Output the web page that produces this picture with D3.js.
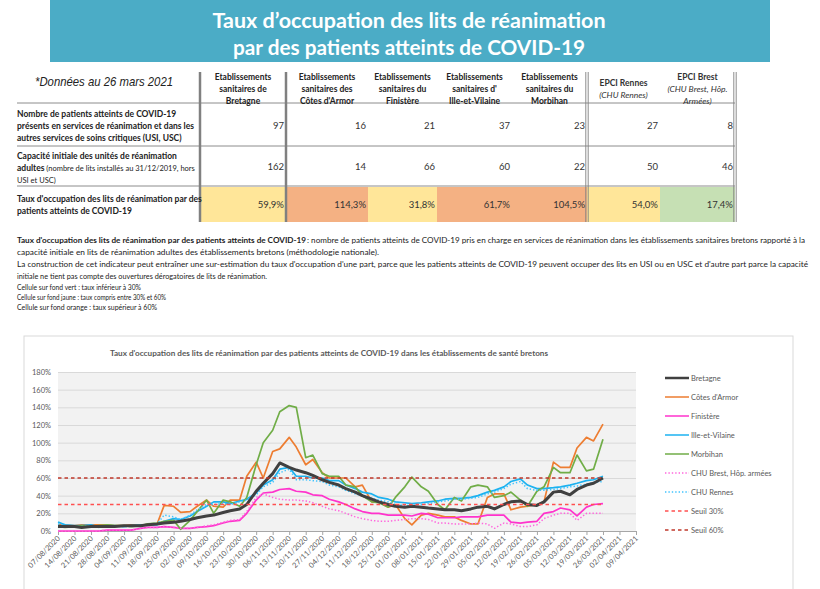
<!DOCTYPE html>
<html>
<head>
<meta charset="utf-8">
<script src="https://cdn.jsdelivr.net/npm/d3@7"></script>
<style>
body { margin: 0; background: #fff; }
svg text { font-family: Lato, "Open Sans", sans-serif; }
</style>
</head>
<body>
<svg id="page" width="820" height="589"></svg>
<script>
// ---- table data ----
var colHeads = [
    ["Etablissements", "sanitaires de", "Bretagne"],
    ["Etablissements", "sanitaires des", "Côtes d'Armor"],
    ["Etablissements", "sanitaires du", "Finistère"],
    ["Etablissements", "sanitaires d'", "Ille-et-Vilaine"],
    ["Etablissements", "sanitaires du", "Morbihan"]
];
var epciHeads = [
    ["EPCI Rennes", "(CHU Rennes)"],
    ["EPCI Brest", "(CHU Brest, Hôp.", "Armées)"]
];
var patients = [97, 16, 21, 37, 23, 27, 8];
var capacite = [162, 14, 66, 60, 22, 50, 46];
var taux = [59.9, 114.3, 31.8, 61.7, 104.5, 54.0, 17.4];

// ---- chart data (one value on each Friday and Monday from 07/08/2020) ----
var seriesNames = ["Bretagne", "Côtes d'Armor", "Finistère", "Ille-et-Vilaine", "Morbihan",
                   "CHU Brest, Hôp. armées", "CHU Rennes", "Seuil 30%", "Seuil 60%"];
var bretagne = [5,5, 5,4, 5,5, 5,5, 6,6, 6,7, 8,9, 10,11, 13,15, 17,18, 21,23, 25,30, 45,54, 65,77,
    72,69, 66,63, 58,55, 52,48, 44,40, 36,33, 30,28, 27,28, 27,26, 25,24, 24,23, 25,27, 28,25,
    30,33, 34,30, 29,33, 44,45, 41,47, 52,54, 60];
var cotesArmor = [7,7, 6,7, 7,7, 7,6, 6,7, 7,7, 8,29, 28,21, 22,28, 35,28, 27,35, 35,62, 78,60, 90,93,
    106,95, 75,81, 66,60, 60,60, 50,52, 33,33, 27,30, 14,7, 18,20, 18,16, 16,12, 8,8, 38,42,
    42,24, 27,28, 30,33, 78,72, 72,94, 106,102, 121];
var finistere = [0,0, 0,0, 0,0, 1,1, 1,1, 3,4, 4,5, 4,3, 3,4, 5,6, 9,11, 12,20, 35,43, 44,47,
    48,45, 44,41, 40,36, 33,30, 25,22, 20,20, 18,18, 18,17, 20,19, 15,15, 15,16, 16,16, 18,18,
    18,10, 9,10, 11,20, 22,26, 24,17, 27,30, 31];
var illeVilaine = [10,7, 6,6, 7,5, 6,6, 5,6, 7,7, 7,11, 14,13, 17,22, 28,33, 33,31, 34,36, 43,52, 58,70,
    72,62, 62,60, 60,57, 57,52, 48,44, 42,38, 36,33, 32,31, 32,33, 34,36, 37,37, 38,40, 44,46,
    50,56, 59,52, 48,48, 49,50, 52,54, 57,58, 62];
var morbihan = [5,4, 5,6, 5,6, 7,6, 6,5, 6,8, 9,11, 12,2, 12,22, 35,20, 35,33, 28,38, 75,100, 114,135,
    142,140, 83,86, 65,62, 62,52, 50,40, 33,32, 27,38, 50,61, 50,45, 30,24, 38,34, 50,52, 50,38,
    40,44, 35,28, 45,50, 72,66, 66,86, 68,70, 104];
var chuBrest = [0,0, 0,0, 0,0, 1,1, 1,1, 3,4, 4,5, 4,3, 3,4, 6,7, 10,12, 13,22, 38,42, 38,36,
    35,35, 34,32, 28,25, 23,20, 16,14, 12,11, 11,12, 13,14, 14,13, 9,9, 8,8, 8,9, 8,3,
    9,8, 5,5, 7,14, 18,20, 20,12, 20,20, 20];
var chuRennes = [8,6, 5,5, 6,4, 5,5, 5,5, 6,7, 8,18, 16,13, 18,24, 30,30, 31,30, 33,35, 41,50, 55,66,
    70,58, 58,57, 56,52, 50,46, 42,40, 37,35, 33,30, 29,29, 30,31, 33,34, 36,36, 37,38, 42,44,
    48,53, 56,48, 46,46, 47,48, 50,51, 53,55, 56];
var seuil30 = 30, seuil60 = 60;
var yTicks = [0, 20, 40, 60, 80, 100, 120, 140, 160, 180];

var svg = d3.select("#page");

// ---- banner ----
svg.append("rect").attr("x", 50).attr("y", 0).attr("width", 720).attr("height", 62).attr("fill", "#4BACC6");
svg.append("text").attr("x", 409).attr("y", 28).attr("text-anchor", "middle")
    .attr("fill", "#fff").attr("font-size", 21).attr("font-weight", "bold")
    .attr("textLength", 393).attr("lengthAdjust", "spacingAndGlyphs")
    .text("Taux d’occupation des lits de réanimation");
svg.append("text").attr("x", 409).attr("y", 55).attr("text-anchor", "middle")
    .attr("fill", "#fff").attr("font-size", 21).attr("font-weight", "bold")
    .attr("textLength", 352).attr("lengthAdjust", "spacingAndGlyphs")
    .text("par des patients atteints de COVID-19");

// ---- table ----
var edges = [200, 286, 368, 437, 512, 587, 660, 735];
var tbl = svg.append("g");

svg.append("text").attr("x", 35).attr("y", 86).attr("font-size", 13).attr("font-style", "italic")
    .style("font-family", "'Liberation Sans', Arial, sans-serif").attr("fill", "#222")
    .attr("textLength", 138).attr("lengthAdjust", "spacingAndGlyphs")
    .text("*Données au 26 mars 2021");

function cellColor(v) {
    if (v < 30) return "#C6E0B4";
    if (v <= 60) return "#FFE699";
    return "#F4B183";
}
taux.forEach(function (v, i) {
    tbl.append("rect").attr("x", edges[i]).attr("y", 187)
        .attr("width", edges[i + 1] - edges[i]).attr("height", 35).attr("fill", cellColor(v));
});

[103, 146, 186].forEach(function (y) {
    tbl.append("line").attr("x1", 17).attr("x2", 735).attr("y1", y).attr("y2", y)
        .attr("stroke", "#8c8c8c").attr("stroke-width", 1);
});
[200, 286].forEach(function (x) {
    tbl.append("line").attr("x1", x).attr("x2", x).attr("y1", 72).attr("y2", 222)
        .attr("stroke", "#808080").attr("stroke-width", 2.5);
});
[587, 735].forEach(function (x) {
    [-1.2, 1.2].forEach(function (d) {
        tbl.append("line").attr("x1", x + d).attr("x2", x + d).attr("y1", 72).attr("y2", 222)
            .attr("stroke", "#808080").attr("stroke-width", 0.9);
    });
});

colHeads.forEach(function (lines, i) {
    var cx = (edges[i] + edges[i + 1]) / 2;
    lines.forEach(function (t, j) {
        tbl.append("text").attr("x", cx).attr("y", 80 + j * 12).attr("text-anchor", "middle")
            .attr("font-size", 8.5).attr("font-weight", "bold").attr("fill", "#222").text(t);
    });
});
epciHeads.forEach(function (lines, i) {
    var cx = (edges[5 + i] + edges[6 + i]) / 2;
    var y0 = lines.length === 2 ? 86 : 80;
    lines.forEach(function (t, j) {
        tbl.append("text").attr("x", cx).attr("y", y0 + j * 12).attr("text-anchor", "middle")
            .attr("font-size", 8.5).attr("font-weight", j === 0 ? "bold" : "normal")
            .attr("font-style", j === 0 ? "normal" : "italic").attr("fill", "#333").text(t);
    });
});

function rowLabel(lines, y0) {
    lines.forEach(function (parts, j) {
        var t = tbl.append("text").attr("x", 17).attr("y", y0 + j * 11.8).attr("fill", "#222");
        parts.forEach(function (p) {
            t.append("tspan").attr("font-size", p[1] ? 8.5 : 7.5)
                .attr("font-weight", p[1] ? "bold" : "normal").text(p[0]);
        });
    });
}
rowLabel([[["Nombre de patients atteints de COVID-19", 1]],
          [["présents en services de réanimation et dans les", 1]],
          [["autres services de soins critiques (USI, USC)", 1]]], 117);
rowLabel([[["Capacité initiale des unités de réanimation", 1]],
          [["adultes", 1], [" (nombre de lits installés au 31/12/2019, hors", 0]],
          [["USI et USC)", 0]]], 159);
rowLabel([[["Taux d'occupation des lits de réanimation par des", 1]],
          [["patients atteints de COVID-19", 1]]], 202);

function rowValues(vals, y, fmt, bold) {
    vals.forEach(function (v, i) {
        tbl.append("text").attr("x", edges[i + 1] - 2).attr("y", y).attr("text-anchor", "end")
            .attr("font-size", 9.5).attr("font-weight", bold ? "bold" : "normal").attr("fill", "#333")
            .text(fmt(v));
    });
}
rowValues(patients, 129, String, false);
rowValues(capacite, 170, String, false);
rowValues(taux, 208, function (v) { return v.toFixed(1).replace(".", ",") + "%"; }, false);

// ---- note paragraph ----
var note = svg.append("g").attr("fill", "#222").attr("font-size", 8);
note.append("text").attr("x", 17).attr("y", 243).attr("font-weight", "bold")
    .attr("textLength", 289).attr("lengthAdjust", "spacingAndGlyphs")
    .text("Taux d'occupation des lits de réanimation par des patients atteints de COVID-19");
note.append("text").attr("x", 307).attr("y", 243)
    .attr("textLength", 498).attr("lengthAdjust", "spacingAndGlyphs")
    .text(" : nombre de patients atteints de COVID-19 pris en charge en services de réanimation dans les établissements sanitaires bretons rapporté à la");
var noteLines = [
    ["capacité initiale en lits de réanimation adultes des établissements bretons (méthodologie nationale).", 255, 362],
    ["La construction de cet indicateur peut entraîner une sur-estimation du taux d'occupation d'une part, parce que les patients atteints de COVID-19 peuvent occuper des lits en USI ou en USC et d'autre part parce la capacité", 267, 791],
    ["initiale ne tient pas compte des ouvertures dérogatoires de lits de réanimation.", 279, 250],
    ["Cellule sur fond vert :  taux inférieur à 30%", 290, 124],
    ["Cellule sur fond jaune : taux compris entre 30% et 60%", 300, 149],
    ["Cellule sur fond orange : taux supérieur à 60%", 310, 140]
];
noteLines.forEach(function (l) {
    note.append("text").attr("x", 17).attr("y", l[1])
        .attr("textLength", l[2]).attr("lengthAdjust", "spacingAndGlyphs").text(l[0]);
});

// ---- chart ----
svg.append("rect").attr("x", 24).attr("y", 336).attr("width", 769).attr("height", 270)
    .attr("fill", "#fff").attr("stroke", "#D9D9D9");
svg.append("text").attr("x", 110).attr("y", 356).attr("font-size", 8).attr("font-weight", "bold")
    .attr("fill", "#595959").attr("textLength", 438).attr("lengthAdjust", "spacingAndGlyphs")
    .text("Taux d'occupation des lits de réanimation par des patients atteints de COVID-19 dans les établissements de santé bretons");

var start = new Date(2020, 7, 7), end = new Date(2021, 3, 9);
var sampleDates = [];
for (var k = 0; k <= 33; k++) {
    sampleDates.push(d3.timeDay.offset(start, 7 * k));
    if (k < 33) sampleDates.push(d3.timeDay.offset(start, 7 * k + 3));
}
var weeks = d3.timeDay.range(start, d3.timeDay.offset(end, 1), 7);

var x = d3.scaleTime().domain([start, end]).range([58, 636]);
var y = d3.scaleLinear().domain([0, 180]).range([531, 372]);

var plot = svg.append("g");
plot.append("rect").attr("x", 58).attr("y", 372).attr("width", 578).attr("height", 159).attr("fill", "#F2F2F2");

plot.append("g").attr("transform", "translate(58,0)")
    .call(d3.axisLeft(y).tickValues(yTicks.slice(1)).tickSize(-578).tickFormat(""))
    .call(function (g) {
        g.select(".domain").remove();
        g.selectAll("line").attr("stroke", "#D9D9D9");
    });

plot.append("g").attr("transform", "translate(54,0)")
    .call(d3.axisLeft(y).tickValues(yTicks).tickSize(0).tickFormat(function (d) { return d + "%"; }))
    .call(function (g) {
        g.select(".domain").remove();
        g.selectAll("text").attr("fill", "#595959").attr("font-size", 7.5)
            .style("font-family", "Lato, sans-serif");
    });

plot.append("g").attr("transform", "translate(0,531)")
    .call(d3.axisBottom(x).tickValues(weeks).tickSize(4).tickFormat(d3.timeFormat("%d/%m/%Y")))
    .call(function (g) {
        g.select(".domain").attr("stroke", "#A6A6A6");
        g.selectAll("line").attr("stroke", "#A6A6A6");
        g.selectAll("text").attr("fill", "#595959").attr("font-size", 7.5)
            .style("font-family", "Lato, sans-serif")
            .attr("text-anchor", "end").attr("dy", 0).attr("y", 0)
            .attr("transform", "translate(2,8) rotate(-45)");
    });

var styles = [
    { name: seriesNames[0], data: bretagne, color: "#404040", width: 3, dash: null },
    { name: seriesNames[1], data: cotesArmor, color: "#ED7D31", width: 1.7, dash: null },
    { name: seriesNames[2], data: finistere, color: "#FF33CC", width: 1.7, dash: null },
    { name: seriesNames[3], data: illeVilaine, color: "#1CB2F0", width: 1.7, dash: null },
    { name: seriesNames[4], data: morbihan, color: "#70AD47", width: 1.7, dash: null },
    { name: seriesNames[5], data: chuBrest, color: "#FF66DD", width: 1.5, dash: "1.4 2" },
    { name: seriesNames[6], data: chuRennes, color: "#40C4FF", width: 1.5, dash: "1.4 2" },
    { name: seriesNames[7], data: sampleDates.map(function () { return seuil30; }), color: "#FF5050", width: 1.4, dash: "3.5 3" },
    { name: seriesNames[8], data: sampleDates.map(function () { return seuil60; }), color: "#C0392B", width: 1.4, dash: "3.5 3" }
];

var line = d3.line()
    .x(function (d, i) { return x(sampleDates[i]); })
    .y(function (d) { return y(d); });

var drawOrder = [1, 2, 3, 4, 5, 6, 0, 7, 8];
drawOrder.forEach(function (i) {
    var s = styles[i];
    plot.append("path").attr("d", line(s.data)).attr("fill", "none")
        .attr("stroke", s.color).attr("stroke-width", s.width)
        .attr("stroke-dasharray", s.dash).attr("stroke-linejoin", "round");
});

// ---- legend ----
var legend = svg.append("g").attr("transform", "translate(665,378)");
styles.forEach(function (s, i) {
    var g = legend.append("g").attr("transform", "translate(0," + (i * 19) + ")");
    g.append("line").attr("x1", 0).attr("x2", 24).attr("y1", 0).attr("y2", 0)
        .attr("stroke", s.color).attr("stroke-width", s.width === 3 ? 2.5 : 1.5)
        .attr("stroke-dasharray", s.dash);
    g.append("text").attr("x", 26).attr("y", 3).attr("font-size", 7.5).attr("fill", "#595959").text(s.name);
});
</script>
</body>
</html>
